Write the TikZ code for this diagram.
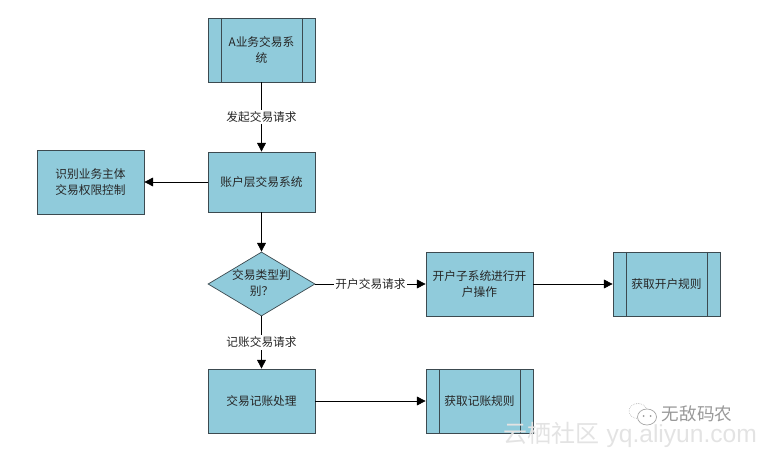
\documentclass[tikz,border=0pt]{standalone}
\usepackage{fontspec}
\setmainfont{Noto Sans CJK SC}
\newfontfamily\latinfont{Liberation Sans}
\usetikzlibrary{arrows.meta,shapes.geometric}
\definecolor{boxfill}{HTML}{90CBDB}
\definecolor{boxline}{HTML}{3C4A50}

\begin{document}
\begin{tikzpicture}[
x=0.03cm, y=-0.03cm,
every node/.style={font=\fontsize{10}{13.5}\selectfont, text=black!85},
block/.style={draw=boxline, fill=boxfill, line width=0.6pt, minimum width=3.21cm, minimum height=1.92cm, inner sep=2pt, align=center, text width=2.85cm},
subsys/.style={block, path picture={
    \draw[boxline, line width=0.6pt] ([xshift=0.39cm]path picture bounding box.north west) -- ([xshift=0.39cm]path picture bounding box.south west);
    \draw[boxline, line width=0.6pt] ([xshift=-0.39cm]path picture bounding box.north east) -- ([xshift=-0.39cm]path picture bounding box.south east);}},
decision/.style={draw=boxline, fill=boxfill, line width=0.6pt, diamond, aspect=1.67, minimum width=3.21cm, minimum height=1.92cm, inner sep=0pt},
flow/.style={-{Triangle[length=7.5pt, width=7.5pt]}, line width=0.6pt, draw=black},
flowlabel/.style={fill=white, inner sep=1.5pt}
]
\useasboundingbox (0,0) rectangle (766,458);

% left column
\node[subsys] (asys) at (261.5, 50) {A业务交易系\\统};
\node[block, minimum height=1.8cm] (acct) at (261.5, 182) {账户层交易系统};
\node[block] (ident) at (90.5, 182) {识别业务主体\\交易权限控制};
\node[decision, label={[align=center, yshift=1pt]center:交易类型判\\别？}] (judge) at (261.5, 284) {};
\node[block] (book) at (261.5, 401) {交易记账处理};

% right side
\node[block] (open) at (479.5, 284) {开户子系统进行开\\户操作};
\node[subsys] (openrule) at (666.5, 284) {获取开户规则};
\node[subsys] (bookrule) at (479.5, 401) {获取记账规则};

% connectors
\draw[flow] (asys) -- node[flowlabel] {发起交易请求} (acct);
\draw[flow] (acct) -- (ident);
\draw[flow] (acct) -- (judge);
\draw[flow] (judge) -- node[flowlabel] {开户交易请求} (open);
\draw[flow] (judge) -- node[flowlabel] {记账交易请求} (book);
\draw[flow] (open) -- (openrule);
\draw[flow] (book) -- (bookrule);

% watermark
\draw[gray!70, line width=0.5pt, densely dotted] (638,411) ellipse [x radius=9, y radius=7.5];
\draw[gray!70, line width=0.6pt, fill=white] (647,417) ellipse [x radius=9.5, y radius=8];
\fill[gray!80] (643.5,416) circle (1) (650.5,416) circle (1);
\node[font=\fontsize{15}{15}\selectfont, text=gray!80] (wxname) at (697, 414) {无敌码农};
\node[font=\fontsize{20.5}{20.5}\selectfont, text=gray!22, anchor=west, inner sep=0pt] (site) at (503, 435) {云栖社区\hspace{0.3em}{\latinfont\fontsize{21}{21}\selectfont yq.aliyun.com}};
\end{tikzpicture}
\end{document}
